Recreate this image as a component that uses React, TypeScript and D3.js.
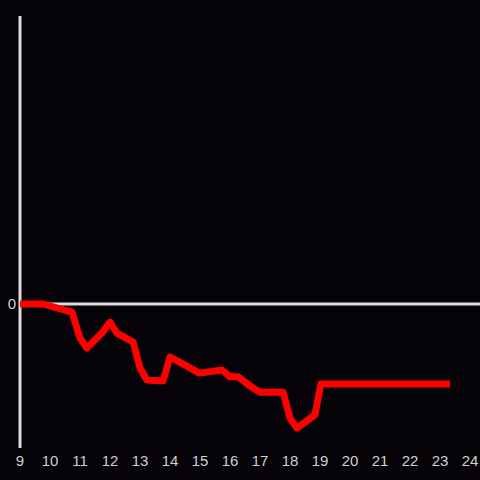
import React from "react";
import * as d3 from "d3";

const hours: number[] = [9, 9.77, 10.73, 11.0, 11.23, 11.73, 12.0, 12.23, 12.77, 13.0, 13.23, 13.77, 14.0, 14.5, 14.97, 15.73, 16.0, 16.27, 16.77, 17.0, 17.77, 18.0, 18.23, 18.83, 19.03, 23.33];
const values: number[] = [0, 0, -2.8, -11.8, -15.3, -10.1, -6.3, -10.1, -13.2, -22.2, -26.4, -26.7, -18.4, -21.2, -24.0, -22.9, -25.3, -25.3, -29.2, -30.6, -30.6, -39.6, -43.1, -38.5, -27.8, -27.8];
const xTicks: number[] = [9, 10, 11, 12, 13, 14, 15, 16, 17, 18, 19, 20, 21, 22, 23, 24];
const yTicks: number[] = [0];

export default function App() {
  const W = 480, H = 480;
  const x = d3.scaleLinear().domain([9, 24]).range([20, 470]);
  const y = d3.scaleLinear().domain([-50, 100]).range([448, 16]);
  const pts: [number, number][] = hours.map((h, i) => [h, values[i]]);
  const line = d3.line<[number, number]>().x(d => x(d[0])).y(d => y(d[1]));
  const axisColor = "#dedede";
  const textColor = "#d0d0d0";
  return (
    <svg width={W} height={H} style={{ position: "fixed", left: 0, top: 0, display: "block" }}
      fontFamily="'Liberation Sans', Arial, sans-serif">
      <rect x={0} y={0} width={W} height={H} fill="#050308" />
      <line x1={x(9)} x2={W} y1={y(0)} y2={y(0)} stroke={axisColor} strokeWidth={3} />
      <line x1={x(9)} x2={x(9)} y1={16} y2={448} stroke={axisColor} strokeWidth={3} />
      <path d={line(pts) || ""} fill="none" stroke="#ff0000" strokeWidth={7} strokeLinejoin="round" />
      {yTicks.map(t => (
        <text key={t} x={x(9) - 4} y={y(t)} dy="0.35em" textAnchor="end" fontSize={15} fill={textColor}>{t}</text>
      ))}
      {xTicks.map(t => (
        <text key={t} x={x(t)} y={466} textAnchor="middle" fontSize={15} fill={textColor}>{t}</text>
      ))}
    </svg>
  );
}
